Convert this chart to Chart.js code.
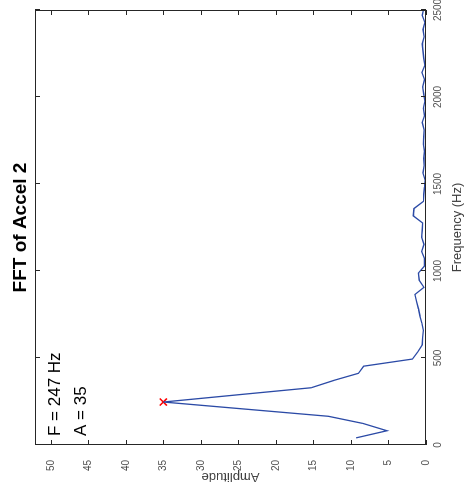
<!DOCTYPE html>
<html lang="en">
<head>
  <meta charset="UTF-8">
  <title>FFT of Accel 2</title>
  <style>
    body { margin: 0; background: #fff; }
    #page { position: relative; width: 465px; height: 493px; overflow: hidden; background: #fff; }
    /* the figure is shown turned a quarter turn counter-clockwise */
    #rot {
      position: absolute; left: 0; top: 0;
      width: 493px; height: 465px;
      transform-origin: 0 0;
      transform: translate(0, 493px) rotate(-90deg);
    }
  </style>
  <script src="https://cdn.jsdelivr.net/npm/chart.js"></script>
</head>
<body>
  <div id="page"><div id="rot"><canvas id="fftChart" width="493" height="465"></canvas></div></div>

  <script>
    const frequencies = [41, 82, 124, 165, 206, 247, 288, 329, 371, 412, 453, 494, 535, 576, 618, 659,
      700, 741, 782, 823, 865, 906, 947, 988, 1029, 1070, 1112, 1153, 1194, 1235, 1276, 1317, 1359,
      1400, 1441, 1482, 1523, 1564, 1606, 1647, 1688, 1729, 1770, 1811, 1853, 1894, 1935, 1976, 2017,
      2058, 2099, 2141, 2182, 2223, 2264, 2305, 2346, 2388, 2429, 2470, 2511];
    const amplitudes = [9.3, 5.2, 8.4, 13.0, 24.0, 35.0, 25.2, 15.3, 12.3, 9.0, 8.3, 1.8, 1.1, 0.5, 0.45, 0.36,
      0.55, 0.8, 1.0, 1.24, 1.47, 0.27, 0.9, 1.02, 0.2, 0.2, 0.57, 0.27, 0.57, 0.5, 0.45, 1.7, 1.6,
      0.36, 0.3, 0.2, 0.13, 0.4, 0.25, 0.3, 0.2, 0.35, 0.3, 0.25, 0.5, 0.2, 0.35, 0.15, 0.3,
      0.45, 0.2, 0.55, 0.15, 0.3, 0.4, 0.5, 0.25, 0.4, 0.15, 0.5, 0.3];
    const peakFrequency = 247;
    const peakAmplitude = 35;
    const freqTicks = [0, 500, 1000, 1500, 2000, 2500];
    const ampTicks = [0, 5, 10, 15, 20, 25, 30, 35, 40, 45, 50];

    const FONT = "'Liberation Sans', Arial, Helvetica, sans-serif";
    const AXIS = '#262626';

    // MATLAB style box with inward ticks on every side, plus the texts
    const matlabAxes = {
      id: 'matlabAxes',
      afterDraw(chart) {
        const ctx = chart.ctx;
        const a = chart.chartArea;
        const xs = chart.scales.x, ys = chart.scales.y;
        const tl = 5;
        ctx.save();
        ctx.strokeStyle = AXIS;
        ctx.lineWidth = 1;
        ctx.strokeRect(a.left + 0.5, a.top + 0.5, a.right - a.left - 1, a.bottom - a.top - 1);
        ctx.beginPath();
        freqTicks.forEach(v => {
          const px = Math.round(xs.getPixelForValue(v)) + 0.5;
          ctx.moveTo(px, a.bottom); ctx.lineTo(px, a.bottom - tl);
          ctx.moveTo(px, a.top); ctx.lineTo(px, a.top + tl);
        });
        ampTicks.forEach(v => {
          const py = Math.round(ys.getPixelForValue(v)) + 0.5;
          ctx.moveTo(a.left, py); ctx.lineTo(a.left + tl, py);
          ctx.moveTo(a.right, py); ctx.lineTo(a.right - tl, py);
        });
        ctx.stroke();

        ctx.fillStyle = '#000';
        ctx.textAlign = 'center';
        ctx.textBaseline = 'middle';
        ctx.font = 'bold 19px ' + FONT;
        ctx.fillText('FFT of Accel 2', (a.left + a.right) / 2, 21);

        ctx.fillStyle = '#404040';
        ctx.font = '13px ' + FONT;
        ctx.fillText('Frequency (Hz)', (a.left + a.right) / 2, 457);
        ctx.save();
        ctx.translate(16, (a.top + a.bottom) / 2);
        ctx.rotate(-Math.PI / 2);
        ctx.fillText('Amplitude', 0, 0);
        ctx.restore();

        ctx.fillStyle = '#000';
        ctx.textAlign = 'left';
        ctx.font = '17px ' + FONT;
        ctx.fillText('F = ' + peakFrequency + ' Hz', 57, 55);
        ctx.fillText('A = ' + peakAmplitude, 57, 81);
        ctx.restore();
      }
    };

    new Chart(document.getElementById('fftChart').getContext('2d'), {
      type: 'line',
      data: {
        datasets: [{
          label: 'FFT',
          data: frequencies.map((f, i) => ({ x: f, y: amplitudes[i] })),
          borderColor: '#2b4aa6',
          borderWidth: 1.3,
          pointRadius: 0,
          tension: 0,
          fill: false
        }, {
          label: 'Peak',
          data: [{ x: peakFrequency, y: peakAmplitude }],
          showLine: false,
          pointStyle: 'crossRot',
          pointRadius: 5,
          borderColor: '#ff0000',
          borderWidth: 1.5
        }]
      },
      options: {
        responsive: false,
        animation: false,
        layout: { padding: { top: 35, right: 10, left: 0, bottom: 0 } },
        plugins: { legend: { display: false }, tooltip: { enabled: false } },
        scales: {
          x: {
            type: 'linear', min: 0, max: 2500,
            afterBuildTicks: s => { s.ticks = freqTicks.map(v => ({ value: v })); },
            afterFit: s => { s.height = 39; s.paddingLeft = 0; s.paddingRight = 0; },
            grid: { display: false, drawTicks: false },
            border: { display: false },
            ticks: { color: '#505050', font: { family: FONT, size: 10 }, padding: 6, maxRotation: 0,
                     callback: v => String(v) }
          },
          y: {
            type: 'linear', min: 0, max: 52.1,
            afterBuildTicks: s => { s.ticks = ampTicks.map(v => ({ value: v })); },
            afterFit: s => { s.width = 48; s.paddingTop = 0; s.paddingBottom = 0; },
            grid: { display: false, drawTicks: false },
            border: { display: false },
            ticks: { color: '#505050', font: { family: FONT, size: 10 }, padding: 15,
                     callback: v => String(v) }
          }
        }
      },
      plugins: [matlabAxes]
    });
  </script>
</body>
</html>
